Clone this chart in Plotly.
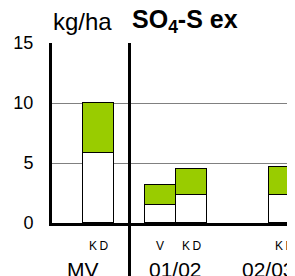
import plotly.graph_objects as go

# ---- data ----
group_labels = ["MV", "01/02", "02/03"]
sub_labels = ["V", "KD"]
white_part = [[None, 5.8], [1.5, 2.3], [None, 2.3]]   # lower (white) segment, kg/ha
green_part = [[None, 4.2], [1.67, 2.2], [None, 2.4]]  # upper (green) segment, kg/ha
y_ticks = [0, 5, 10, 15]

FONT = "Liberation Sans, Arial, sans-serif"
slots_per_group = len(sub_labels) + 1  # one empty slot between groups

xs, w_vals, g_vals, sub_text = [], [], [], []
for gi, g in enumerate(group_labels):
    for si, s in enumerate(sub_labels):
        xs.append(gi * slots_per_group + si)
        w_vals.append(white_part[gi][si])
        g_vals.append(green_part[gi][si])
        sub_text.append(s if white_part[gi][si] is not None else "")

x_min, x_max = -0.5, 7.34

fig = go.Figure()
fig.add_trace(go.Bar(x=xs, y=w_vals, width=1, marker=dict(color="white", line=dict(color="black", width=1.5)), showlegend=False))
fig.add_trace(go.Bar(x=xs, y=g_vals, width=1, marker=dict(color="#99CC00", line=dict(color="black", width=1.5)), showlegend=False))

annotations = []
for x, t in zip(xs, sub_text):
    if t:
        annotations.append(dict(x=x, y=0, xref="x", yref="paper", text=t.replace("KD", "K\u2009D"),
                                showarrow=False, yanchor="top", yshift=-14,
                                font=dict(family=FONT, size=12, color="black")))
for gi, g in enumerate(group_labels):
    cx = gi * slots_per_group + (len(sub_labels) - 1) / 2
    annotations.append(dict(x=cx, y=0, xref="x", yref="paper", text=g, showarrow=False,
                            yanchor="top", yshift=-33, font=dict(family=FONT, size=21, color="black")))
annotations.append(dict(x=0, y=1, xref="paper", yref="paper", text="kg/ha", showarrow=False,
                        xanchor="left", yanchor="bottom", xshift=-1, yshift=6,
                        font=dict(family=FONT, size=24, color="black")))
annotations.append(dict(x=0, y=1, xref="paper", yref="paper", text="<b>SO<sub>4</sub>-S ex</b>", showarrow=False,
                        xanchor="left", yanchor="bottom", xshift=78, yshift=4,
                        font=dict(family=FONT, size=25, color="black")))

# divider between the MV group and the yearly groups (centre of the empty slot)
div_x = (slots_per_group - 1 - x_min) / (x_max - x_min)
shapes = [dict(type="line", xref="paper", yref="paper", x0=div_x, x1=div_x, y0=1, y1=-0.35,
               line=dict(color="black", width=3))]

fig.update_layout(
    width=295, height=276,
    margin=dict(l=44, r=8, t=35, b=61, autoexpand=False),
    paper_bgcolor="white", plot_bgcolor="white",
    barmode="stack", bargap=0,
    annotations=annotations, shapes=shapes,
    xaxis=dict(range=[x_min, x_max], showticklabels=False, ticks="", showgrid=False, zeroline=False,
               showline=True, linecolor="black", linewidth=3, automargin=False),
    yaxis=dict(range=[0, 15], tickvals=y_ticks, showgrid=True, gridcolor="#808080", gridwidth=1,
               zeroline=False, showline=True, linecolor="black", linewidth=3, automargin=False,
               ticks="outside", ticklen=12, tickcolor="rgba(0,0,0,0)",
               tickfont=dict(family=FONT, size=18, color="black")),
)

fig.write_html("out.html")
